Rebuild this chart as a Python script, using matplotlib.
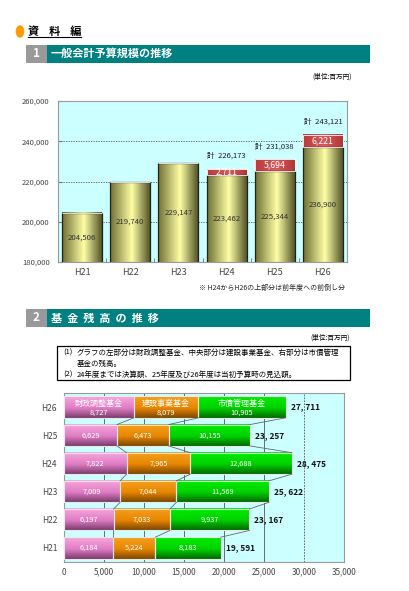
import matplotlib
matplotlib.use("Agg")
import matplotlib.pyplot as plt
from matplotlib.colors import LinearSegmentedColormap
from matplotlib.patches import Rectangle, Circle
import numpy as np

plt.rcParams["font.family"] = ["Noto Sans CJK JP", "DejaVu Sans"]

# --- chart 1 data: general account budget (million yen)
years1 = ["H21", "H22", "H23", "H24", "H25", "H26"]
budget_base = [204506, 219740, 229147, 223462, 225344, 236900]
budget_advance = [0, 0, 0, 2711, 5694, 6221]

# --- chart 2 data: fund balances (million yen)
years2 = ["H21", "H22", "H23", "H24", "H25", "H26"]
fund_names = ["財政調整基金", "建設事業基金", "市債管理基金"]
fiscal_adj = [6184, 6197, 7009, 7822, 6629, 8727]
construction = [5224, 7033, 7044, 7965, 6473, 8079]
bond_mgmt = [8183, 9937, 11569, 12688, 10155, 10905]

W, H = 409, 591
fig = plt.figure(figsize=(W / 100, H / 100), dpi=100)


def fx(px):
    return px / W


def fy(py):
    return 1 - py / H


# ---------------- headers ----------------
fig.patches.append(Circle((fx(20), fy(31.5)), 4.3 / W, transform=fig.transFigure,
                          facecolor="#ff9900", edgecolor="none"))
fig.text(fx(28), fy(31.5), "資    料    編", fontsize=8, fontweight="bold", va="center")
fig.lines.append(plt.Line2D([fx(28), fx(81)], [fy(37), fy(37)], transform=fig.transFigure,
                            color="black", lw=0.8))


def section_header(y0, y1, num, title):
    fig.patches.append(Rectangle((fx(26), fy(y1)), fx(21), (y1 - y0) / H,
                                 transform=fig.transFigure, facecolor="#999999", edgecolor="none"))
    fig.patches.append(Rectangle((fx(47), fy(y1)), fx(323), (y1 - y0) / H,
                                 transform=fig.transFigure, facecolor="#008080", edgecolor="none"))
    fig.text(fx(36.5), fy((y0 + y1) / 2), num, color="white", fontsize=8.5,
             fontweight="bold", ha="center", va="center")
    fig.text(fx(51), fy((y0 + y1) / 2), title, color="white", fontsize=8,
             fontweight="bold", ha="left", va="center")


section_header(45, 62.5, "1", "一般会計予算規模の推移")
section_header(309, 327, "2", "基  金  残  高  の  推  移")

fig.text(fx(352), fy(77), "(単位:百万円)", fontsize=4.8, ha="right", va="center")
fig.text(fx(350), fy(338), "(単位:百万円)", fontsize=4.8, ha="right", va="center")

# ---------------- chart 1 ----------------
ax1 = fig.add_axes([fx(58), fy(262), fx(289), 161 / H])
ax1.set_facecolor("#ccffff")
x1 = np.arange(len(years1))
bars = ax1.bar(x1, budget_base, width=0.83, facecolor="none", edgecolor="#222222",
               lw=0.9, zorder=3)
caps = ax1.bar(x1, budget_advance, width=0.83, bottom=budget_base, facecolor="none",
               edgecolor="#ffffff", lw=0.6, zorder=3)

yellow = LinearSegmentedColormap.from_list(
    "cyl", [(0, "#707035"), (0.55, "#ffffa6"), (1, "#55552a")])
redc = LinearSegmentedColormap.from_list(
    "red", [(0, "#b83c3c"), (0.55, "#d85a5a"), (1, "#b03636")])
grad_h = np.linspace(0, 1, 64).reshape(1, -1)
for bar in bars:
    x0 = bar.get_x()
    ax1.imshow(grad_h, cmap=yellow, aspect="auto", zorder=2,
               extent=(x0, x0 + bar.get_width(), 180000, bar.get_height()))
for cap in caps:
    if cap.get_height() > 0:
        x0 = cap.get_x()
        ax1.imshow(grad_h, cmap=redc, aspect="auto", zorder=2,
                   extent=(x0, x0 + cap.get_width(), cap.get_y(), cap.get_y() + cap.get_height()))
ax1.set_xlim(-0.5, len(years1) - 0.5)
ax1.set_ylim(180000, 260000)

for i, v in enumerate(budget_base):
    ax1.text(i, (180000 + v) / 2, f"{v:,}", ha="center", va="center",
             fontsize=5.6, color="#333333", zorder=4)
for i, (b, a) in enumerate(zip(budget_base, budget_advance)):
    if a > 0:
        ax1.text(i, b + a / 2, f"{a:,}", ha="center", va="center",
                 fontsize=6.3, color="white", zorder=4)
        ax1.annotate(f"計  {b + a:,}", (i, b + a), xytext=(0, 6.5),
                     textcoords="offset points", ha="center", va="bottom",
                     fontsize=5.5, color="#1a1a33", zorder=4)

ax1.set_yticks([180000, 200000, 220000, 240000, 260000])
ax1.set_yticklabels([f"{v:,}" for v in [180000, 200000, 220000, 240000, 260000]],
                    fontsize=5.5, color="#444444")
ax1.set_xticks(x1)
ax1.set_xticklabels(years1, fontsize=6.5, color="#444444")
ax1.set_xticks(np.arange(-0.5, len(years1)), minor=True)
ax1.tick_params(axis="x", which="major", length=0, pad=4)
ax1.tick_params(axis="x", which="minor", length=3, color="#777777", direction="in")
ax1.tick_params(axis="y", length=3, color="#777777", direction="in", pad=6)
ax1.grid(axis="y", linestyle=(0, (1.5, 1.5)), color="#555555", lw=0.6, zorder=1)
ax1.set_axisbelow(True)
for s in ax1.spines.values():
    s.set_color("#999999")
    s.set_linewidth(0.8)

fig.text(fx(345), fy(288), "※ H24からH26の上部分は前年度への前倒し分",
         fontsize=5, ha="right", va="center", color="#222222")

# ---------------- notes box ----------------
fig.patches.append(Rectangle((fx(56.5), fy(380)), fx(293), 34 / H, transform=fig.transFigure,
                             facecolor="white", edgecolor="black", lw=0.9))
note_lines = [
    (352.5, "(1)", "グラフの左部分は財政調整基金、中央部分は建設事業基金、右部分は市債管理"),
    (363.5, "", "基金の残高。"),
    (374.5, "(2)", "24年度までは決算額、25年度及び26年度は当初予算時の見込額。"),
]
for yy, tag, body in note_lines:
    if tag:
        fig.text(fx(63), fy(yy), tag, fontsize=5.4, va="center")
    fig.text(fx(77), fy(yy), body, fontsize=5.4, va="center")

# ---------------- chart 2 ----------------
ax2 = fig.add_axes([fx(64), fy(562), fx(280), 169 / H])
ax2.set_facecolor("#ccffff")
y2 = np.arange(len(years2))
bh = 0.76
series = [fiscal_adj, construction, bond_mgmt]
cmaps = [
    LinearSegmentedColormap.from_list("pk", [(0, "#7a3c6c"), (0.45, "#e07cc4"), (1, "#f7a8dc")]),
    LinearSegmentedColormap.from_list("or", [(0, "#7a4800"), (0.45, "#e88600"), (1, "#f5a020")]),
    LinearSegmentedColormap.from_list("gr", [(0, "#006a00"), (0.45, "#00d000"), (1, "#00ee00")]),
]
grad_v = np.linspace(0, 1, 64).reshape(-1, 1)
left = np.zeros(len(years2))
segs = []
for vals, cm in zip(series, cmaps):
    bs = ax2.barh(y2, vals, height=bh, left=left, facecolor="none",
                  edgecolor="#e8e8e8", lw=0.8, zorder=3)
    for b in bs:
        ax2.imshow(grad_v, cmap=cm, aspect="auto", origin="lower", zorder=2,
                   extent=(b.get_x(), b.get_x() + b.get_width(), b.get_y(), b.get_y() + b.get_height()))
    segs.append((left.copy(), np.array(vals)))
    left = left + np.array(vals)

ax2.set_xlim(0, 35000)
ax2.set_ylim(-0.5, len(years2) - 0.5)

# series lines between adjacent bars
cum = np.cumsum(np.array(series), axis=0)
for k in range(len(years2) - 1):
    for j in range(cum.shape[0]):
        ax2.plot([cum[j][k], cum[j][k + 1]], [k + bh / 2, k + 1 - bh / 2],
                 color="#666666", lw=0.6, zorder=3)

top = len(years2) - 1
for j, (lefts, vals) in enumerate(segs):
    for i in range(len(years2)):
        xc = lefts[i] + vals[i] / 2
        if i == top:
            ax2.text(xc, i + 0.12, fund_names[j], ha="center", va="center",
                     fontsize=5.8, color="white", zorder=4)
            ax2.text(xc, i - 0.2, f"{vals[i]:,}", ha="center", va="center",
                     fontsize=5.3, color="white", zorder=4)
        else:
            ax2.text(xc, i, f"{vals[i]:,}", ha="center", va="center",
                     fontsize=5.3, color="white", zorder=4)
for i, tot in enumerate(left):
    ax2.annotate(f"{int(tot):,}".replace(",", ", "), (tot, i), xytext=(3.5, 0),
                 textcoords="offset points", ha="left", va="center",
                 fontsize=6, fontweight="bold", color="#111111", zorder=4)

ax2.set_xticks(np.arange(0, 35001, 5000))
ax2.set_xticklabels([f"{v:,}" for v in range(0, 35001, 5000)], fontsize=5.8, color="#444444")
ax2.set_yticks(y2)
ax2.set_yticklabels(years2, fontsize=6, color="#444444")
ax2.tick_params(axis="y", length=0, pad=5)
ax2.tick_params(axis="x", length=0, pad=4)
for v in range(5000, 30000, 5000):
    ax2.axvline(v, color="#555555", lw=0.6, zorder=1)
ax2.axvline(30000, color="#555555", lw=0.6, linestyle=(0, (2, 1.5)), zorder=1)
for s in ax2.spines.values():
    s.set_color("#999999")
    s.set_linewidth(0.8)

fig.savefig("out.png", dpi=100)
